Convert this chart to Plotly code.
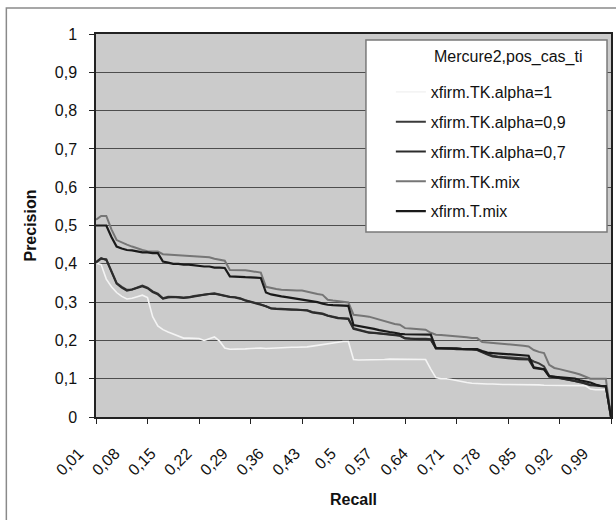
import plotly.graph_objects as go

# Recall levels (category axis of the precision/recall curve)
recall = [round(0.01 * k, 2) for k in range(1, 102)]

series_names = [
    "xfirm.TK.alpha=1",
    "xfirm.TK.alpha=0,9",
    "xfirm.TK.alpha=0,7",
    "xfirm.TK.mix",
    "xfirm.T.mix",
]

prec_alpha_1 = [
    0.402, 0.398, 0.36, 0.34, 0.325, 0.315, 0.308, 0.31, 0.314, 0.318,
    0.312, 0.262, 0.238, 0.228, 0.222, 0.216, 0.21, 0.206, 0.206, 0.206,
    0.205, 0.20, 0.205, 0.209, 0.198, 0.18, 0.177, 0.177, 0.178, 0.178,
    0.179, 0.18, 0.18, 0.179, 0.18, 0.181, 0.181, 0.182, 0.182, 0.182,
    0.182, 0.183, 0.185, 0.187, 0.189, 0.191, 0.193, 0.195, 0.197, 0.197,
    0.15, 0.149, 0.149, 0.15, 0.15, 0.15, 0.15, 0.151, 0.151, 0.151,
    0.151, 0.151, 0.151, 0.151, 0.15, 0.125, 0.103, 0.10, 0.10, 0.098,
    0.095, 0.092, 0.09, 0.088, 0.087, 0.086, 0.086, 0.086, 0.085, 0.085,
    0.085, 0.085, 0.084, 0.084, 0.084, 0.084, 0.084, 0.083, 0.083, 0.083,
    0.083, 0.083, 0.082, 0.082, 0.082, 0.082, 0.073, 0.071, 0.071, 0.071,
    0.0,
]

prec_alpha_09 = [
    0.403, 0.413, 0.412, 0.38, 0.35, 0.34, 0.332, 0.333, 0.338, 0.343,
    0.338, 0.328, 0.322, 0.31, 0.314, 0.314, 0.313, 0.312, 0.313, 0.316,
    0.318, 0.32, 0.322, 0.323, 0.32, 0.316, 0.314, 0.313, 0.31, 0.305,
    0.302, 0.298, 0.294, 0.29, 0.284, 0.283, 0.282, 0.282, 0.281, 0.281,
    0.28, 0.279, 0.274, 0.272, 0.27, 0.265, 0.261, 0.259, 0.258, 0.257,
    0.232, 0.228, 0.226, 0.221, 0.22, 0.219, 0.218, 0.217, 0.215, 0.213,
    0.206, 0.205, 0.205, 0.204, 0.204, 0.203, 0.18, 0.18, 0.179, 0.179,
    0.178, 0.178, 0.177, 0.177, 0.176, 0.17, 0.165, 0.16, 0.158, 0.157,
    0.155, 0.154, 0.153, 0.152, 0.152, 0.145, 0.14, 0.132, 0.108, 0.105,
    0.102, 0.10, 0.098, 0.095, 0.092, 0.088, 0.084, 0.083, 0.081, 0.08,
    0.0,
]

prec_alpha_07 = [
    0.405, 0.415, 0.41, 0.378, 0.348, 0.338, 0.33, 0.333, 0.337, 0.341,
    0.336, 0.326, 0.32, 0.309, 0.312, 0.313, 0.312, 0.311, 0.312, 0.315,
    0.317, 0.319, 0.321, 0.322, 0.319, 0.315, 0.313, 0.312, 0.309, 0.304,
    0.301, 0.297, 0.293, 0.289, 0.283, 0.282, 0.281, 0.281, 0.28, 0.28,
    0.279, 0.278, 0.273, 0.271, 0.269, 0.264, 0.26, 0.258, 0.257, 0.256,
    0.23, 0.226, 0.224, 0.22, 0.219, 0.218, 0.217, 0.216, 0.214, 0.212,
    0.205, 0.204, 0.204, 0.203, 0.203, 0.202, 0.179, 0.179, 0.178, 0.178,
    0.177, 0.177, 0.176, 0.176, 0.175, 0.168, 0.163, 0.158, 0.156, 0.155,
    0.153, 0.152, 0.151, 0.15, 0.15, 0.128, 0.126, 0.124, 0.106, 0.104,
    0.101, 0.099, 0.097, 0.094, 0.091, 0.087, 0.083, 0.082, 0.08, 0.079,
    0.0,
]

prec_tk_mix = [
    0.515, 0.525, 0.525, 0.49, 0.462, 0.455, 0.45, 0.445, 0.44, 0.436,
    0.433, 0.432, 0.432, 0.425, 0.424, 0.423, 0.423, 0.422, 0.421, 0.42,
    0.42, 0.419, 0.417, 0.413, 0.41, 0.408, 0.384, 0.384, 0.383, 0.383,
    0.381, 0.379, 0.377, 0.34, 0.336, 0.334, 0.332, 0.331, 0.331, 0.33,
    0.33, 0.327, 0.323, 0.321, 0.319, 0.306, 0.304, 0.302, 0.301, 0.299,
    0.267, 0.266, 0.264, 0.262, 0.258, 0.254, 0.249, 0.246, 0.243, 0.241,
    0.232, 0.231, 0.23, 0.229, 0.228, 0.22, 0.215, 0.214, 0.213, 0.212,
    0.211, 0.209, 0.208, 0.206, 0.206, 0.196, 0.195, 0.194, 0.193, 0.191,
    0.19, 0.188, 0.187, 0.186, 0.184, 0.175, 0.17, 0.167, 0.136, 0.128,
    0.125, 0.122, 0.119, 0.115, 0.111, 0.106, 0.10, 0.10, 0.10, 0.10,
    0.0,
]

prec_t_mix = [
    0.50, 0.50, 0.50, 0.47, 0.445, 0.44, 0.436, 0.435, 0.432, 0.43,
    0.43, 0.428, 0.428, 0.406, 0.403, 0.40, 0.40, 0.398, 0.398, 0.396,
    0.395, 0.393, 0.393, 0.39, 0.39, 0.389, 0.367, 0.367, 0.366, 0.365,
    0.365, 0.364, 0.363, 0.325, 0.32, 0.317, 0.315, 0.313, 0.311, 0.309,
    0.308, 0.305, 0.302, 0.30, 0.296, 0.293, 0.292, 0.291, 0.29, 0.29,
    0.24, 0.238, 0.235, 0.232, 0.23, 0.227, 0.224, 0.222, 0.22, 0.217,
    0.216, 0.216, 0.215, 0.215, 0.215, 0.215, 0.18, 0.18, 0.18, 0.179,
    0.179, 0.178, 0.178, 0.177, 0.177, 0.172, 0.168, 0.167, 0.166, 0.165,
    0.164, 0.163, 0.162, 0.162, 0.16, 0.13, 0.128, 0.125, 0.106, 0.105,
    0.104, 0.103, 0.102, 0.10, 0.096, 0.093, 0.09, 0.085, 0.081, 0.081,
    0.0,
]

series_values = [prec_alpha_1, prec_alpha_09, prec_alpha_07, prec_tk_mix, prec_t_mix]
series_colors = ["#f4f4f4", "#3a3a3a", "#2c2c2c", "#767676", "#1a1a1a"]
series_widths = [1.6, 2, 2, 2, 2.2]

legend_title = "Mercure2,pos_cas_ti"
y_ticks = [round(0.1 * k, 1) for k in range(11)]
x_label_vals = recall[::7]
x_label_text = [str(v).replace(".", ",") for v in x_label_vals]
x_mark_vals = recall[::10]

W, H = 616, 520
L, R, T, B = 96, 3, 34, 103
pw, ph = W - L - R, H - T - B


def px_x(x):
    return (x - L) / pw


def px_y(y):
    return (H - B - y) / ph


FONT = "Liberation Sans, Arial, sans-serif"

fig = go.Figure()
for name, vals, col, lw in zip(series_names, series_values, series_colors, series_widths):
    fig.add_trace(go.Scatter(
        x=recall, y=vals, mode="lines", name=name, legendgroup=name,
        line=dict(color=col, width=lw),
    ))

fig.update_layout(
    width=W, height=H,
    margin=dict(l=L, r=R, t=T, b=B),
    paper_bgcolor="white",
    plot_bgcolor="#cbcbcb",
    separators=", ",
    font=dict(family=FONT, size=16, color="#111"),
    showlegend=True,
    legend=dict(
        x=px_x(392), y=px_y(75), xanchor="left", yanchor="top",
        bgcolor="rgba(0,0,0,0)", borderwidth=0,
        tracegroupgap=6, traceorder="grouped",
        font=dict(family=FONT, size=16, color="#111"),
    ),
    xaxis=dict(
        range=[recall[0], recall[-1]],
        tickmode="array", tickvals=x_label_vals, ticktext=x_label_text,
        tickangle=-45, ticks="", ticklabelstandoff=19, ticklabelshift=-17,
        showgrid=False, zeroline=False,
        showline=True, linecolor="#222", linewidth=1.5, mirror=True,
        minor=dict(tickmode="array", tickvals=x_mark_vals, ticks="outside",
                   ticklen=5, tickcolor="#222", tickwidth=1.2, showgrid=False),
        title=dict(text="<b>Recall</b>", standoff=16,
                   font=dict(family=FONT, size=16, color="#111")),
    ),
    yaxis=dict(
        range=[0, 1], tickmode="array", tickvals=y_ticks,
        ticks="outside", ticklen=5, tickcolor="#222", tickwidth=1.2,
        ticklabelstandoff=9,
        showgrid=True, gridcolor="#4e4e4e", gridwidth=1,
        zeroline=False,
        showline=True, linecolor="#222", linewidth=1.5, mirror=True,
        title=dict(text="<b>Precision</b>", standoff=14,
                   font=dict(family=FONT, size=16, color="#111")),
    ),
    shapes=[
        # outer chart frame
        dict(type="rect", xref="paper", yref="paper",
             x0=px_x(6), x1=px_x(700), y0=px_y(640), y1=px_y(8),
             line=dict(color="#8a8a8a", width=1.5), fillcolor="rgba(0,0,0,0)",
             layer="below"),
        # legend box
        dict(type="rect", xref="paper", yref="paper",
             x0=px_x(367), x1=px_x(609), y0=px_y(232), y1=px_y(40),
             line=dict(color="#7a7a7a", width=1.5), fillcolor="white",
             layer="above"),
    ],
    annotations=[
        dict(text=legend_title, xref="paper", yref="paper",
             x=px_x(433), y=px_y(57), xanchor="left", yanchor="middle",
             showarrow=False, font=dict(family=FONT, size=16, color="#111")),
    ],
)

fig.write_html("out.html")
